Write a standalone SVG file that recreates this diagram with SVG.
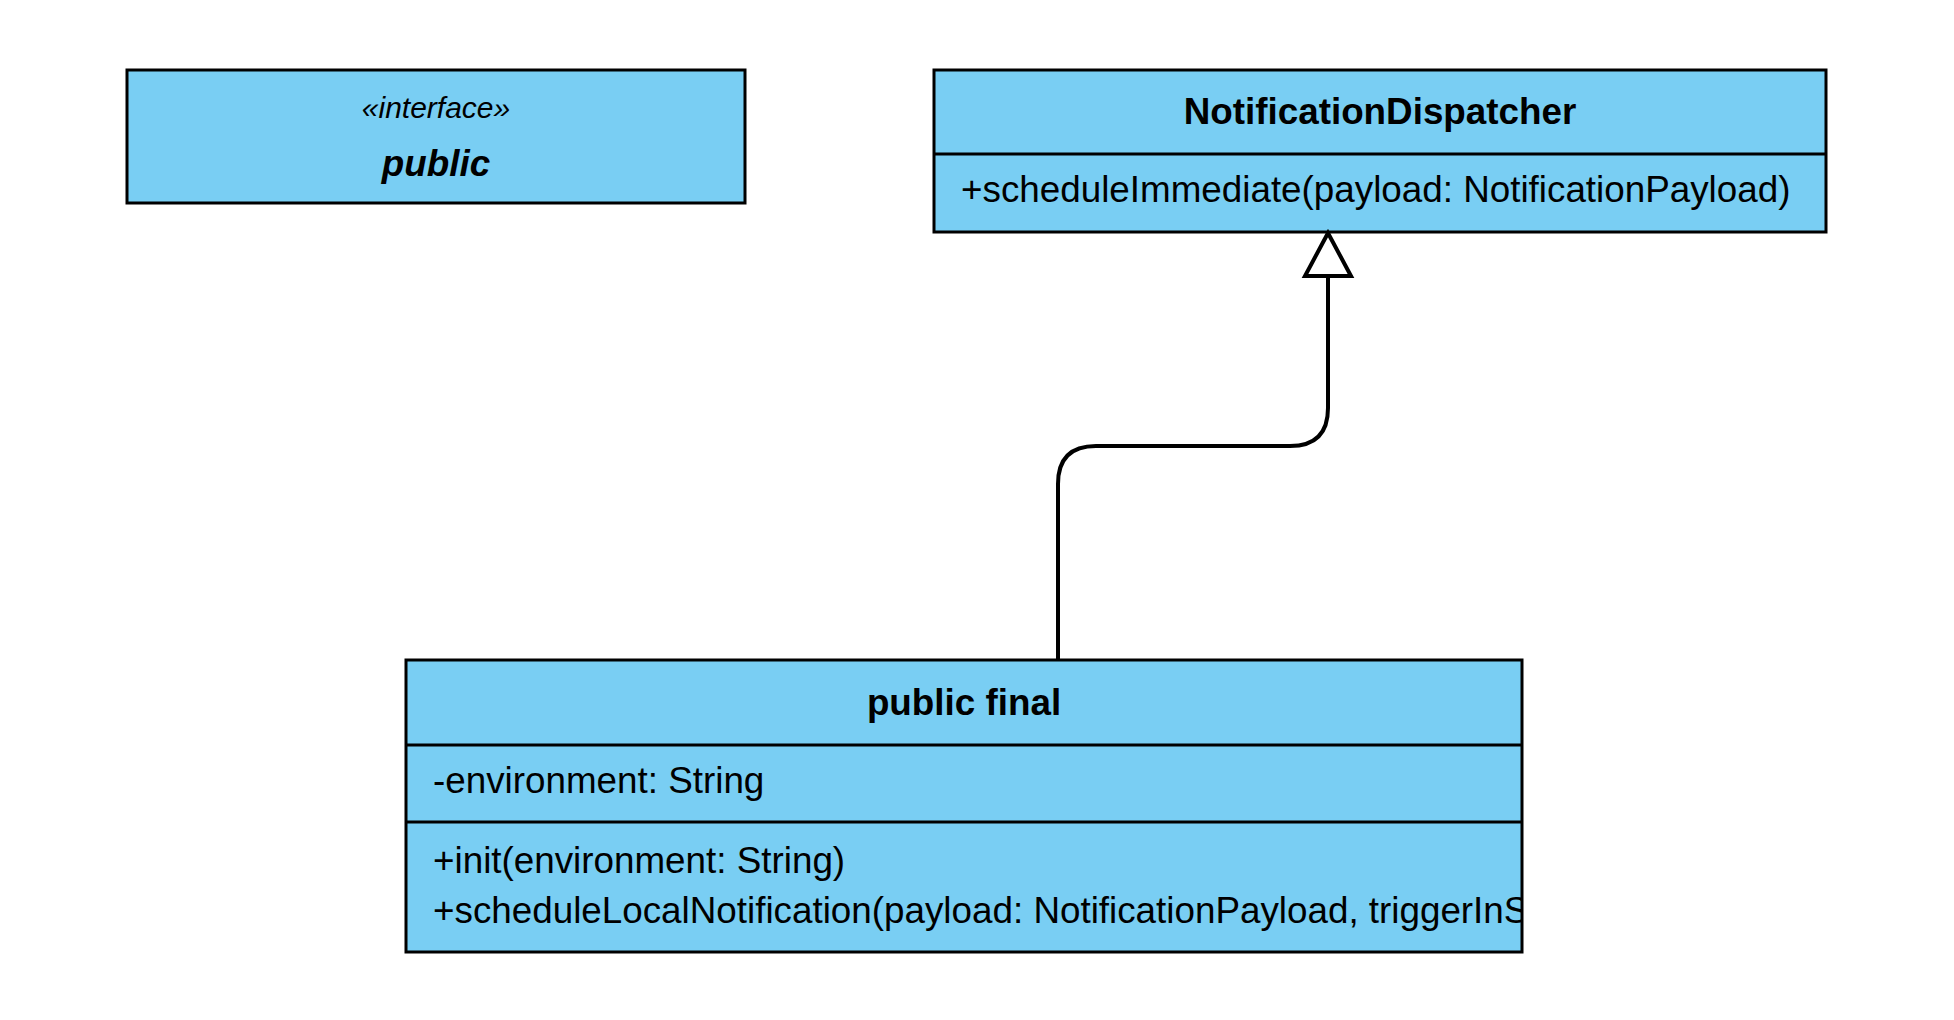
<svg xmlns="http://www.w3.org/2000/svg" width="1954" height="1020" viewBox="0 0 1954 1020">
<defs>
<style>
.box{fill:#79CEF3;stroke:#000;stroke-width:3}
.div{stroke:#000;stroke-width:3;fill:none}
.t{font-family:"Liberation Sans",Arial,Helvetica,sans-serif;font-size:36.8px;fill:#000}
.b{font-weight:bold}
.c{text-anchor:middle}
.i{font-style:italic}
.edge{fill:none;stroke:#000;stroke-width:4}
</style>
<clipPath id="clip3"><rect x="406" y="660" width="1116" height="292"/></clipPath>
</defs>
<rect width="1954" height="1020" fill="#fff"/>
<g id="node-interface-public">
<rect class="box" x="127" y="70" width="618" height="133"/>
<text class="t i c" x="436" y="118" style="font-size:30px">«interface»</text>
<text class="t b i c" x="436" y="176">public</text>
</g>
<g id="node-NotificationDispatcher">
<rect class="box" x="934" y="70" width="892" height="162"/>
<line class="div" x1="934" y1="154" x2="1826" y2="154"/>
<text class="t b c" x="1380" y="124">NotificationDispatcher</text>
<text class="t" x="961" y="202">+scheduleImmediate(payload: NotificationPayload)</text>
</g>
<g id="node-public-final">
<rect class="box" x="406" y="660" width="1116" height="292"/>
<line class="div" x1="406" y1="745" x2="1522" y2="745"/>
<line class="div" x1="406" y1="822" x2="1522" y2="822"/>
<text class="t b c" x="964" y="715">public final</text>
<text class="t" x="433" y="793">-environment: String</text>
<g clip-path="url(#clip3)">
<text class="t" x="433" y="873">+init(environment: String)</text>
<text class="t" x="433" y="923">+scheduleLocalNotification(payload: NotificationPayload, triggerInS</text>
</g>
</g>
<g id="connectors">
<path class="edge" d="M1058 659 V484 Q1058 446 1096 446 H1290 Q1328 446 1328 408 V276"/>
<polygon points="1328,233 1305,276 1351,276" fill="#fff" stroke="#000" stroke-width="4" stroke-linejoin="miter"/>
</g>
</svg>
